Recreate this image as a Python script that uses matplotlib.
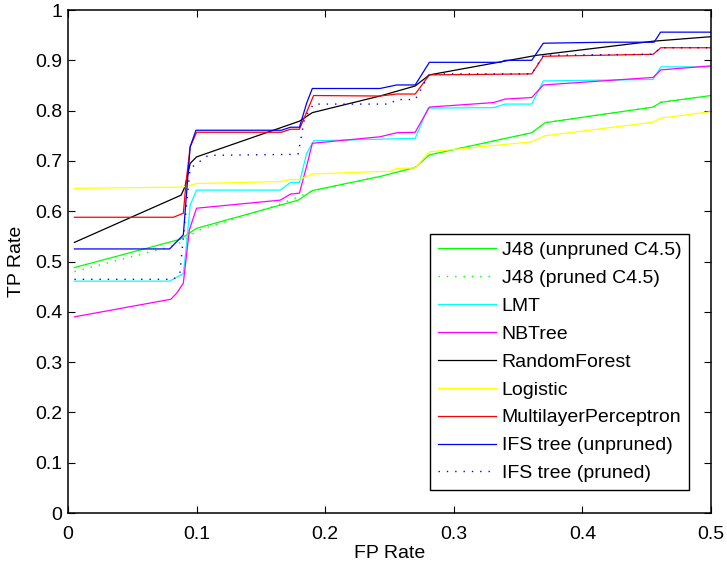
import matplotlib
matplotlib.use('Agg')
import matplotlib.pyplot as plt

plt.rcParams['font.family'] = ['Liberation Sans', 'DejaVu Sans']
plt.rcParams['font.size'] = 14

# ROC curves (FP rate, TP rate)
j48_unpruned_x = [0.005, 0.087, 0.100, 0.179, 0.190, 0.2426, 0.270, 0.281, 0.346, 0.3606, 0.371, 0.455, 0.461, 0.500]
j48_unpruned_y = [0.488, 0.544, 0.566, 0.622, 0.641, 0.669, 0.687, 0.712, 0.748, 0.756, 0.776, 0.807, 0.8165, 0.830]

j48_pruned_x = [0.005, 0.080, 0.090, 0.100, 0.165, 0.190, 0.2426, 0.270, 0.281, 0.346, 0.3606, 0.371, 0.455, 0.461, 0.500]
j48_pruned_y = [0.480, 0.530, 0.540, 0.561, 0.614, 0.640, 0.669, 0.687, 0.712, 0.748, 0.756, 0.776, 0.807, 0.8165, 0.830]

lmt_x = [0.005, 0.079, 0.0897, 0.092, 0.095, 0.100, 0.165, 0.173, 0.180, 0.1856, 0.191, 0.2556, 0.270, 0.280, 0.331, 0.340, 0.3606, 0.3696, 0.455, 0.461, 0.500]
lmt_y = [0.461, 0.461, 0.476, 0.529, 0.612, 0.642, 0.642, 0.657, 0.657, 0.715, 0.740, 0.744, 0.745, 0.805, 0.806, 0.813, 0.813, 0.859, 0.862, 0.887, 0.887]

nbtree_x = [0.005, 0.080, 0.0845, 0.0897, 0.0944, 0.100, 0.165, 0.173, 0.180, 0.1856, 0.190, 0.2426, 0.2556, 0.270, 0.281, 0.331, 0.340, 0.3606, 0.3696, 0.455, 0.461, 0.500]
nbtree_y = [0.390, 0.425, 0.437, 0.457, 0.563, 0.606, 0.622, 0.634, 0.636, 0.690, 0.735, 0.748, 0.756, 0.757, 0.807, 0.816, 0.823, 0.826, 0.851, 0.866, 0.881, 0.889]

rf_x = [0.005, 0.088, 0.091, 0.095, 0.100, 0.180, 0.190, 0.2426, 0.270, 0.281, 0.3645, 0.455, 0.500]
rf_y = [0.538, 0.632, 0.649, 0.695, 0.708, 0.779, 0.796, 0.829, 0.849, 0.871, 0.910, 0.938, 0.947]

logistic_x = [0.005, 0.0897, 0.100, 0.165, 0.173, 0.180, 0.190, 0.2426, 0.250, 0.2556, 0.270, 0.281, 0.3606, 0.371, 0.455, 0.461, 0.500]
logistic_y = [0.6455, 0.648, 0.655, 0.659, 0.663, 0.663, 0.674, 0.679, 0.679, 0.685, 0.686, 0.718, 0.738, 0.750, 0.777, 0.785, 0.798]

mlp_x = [0.005, 0.082, 0.0897, 0.092, 0.095, 0.100, 0.166, 0.173, 0.180, 0.191, 0.2426, 0.2556, 0.270, 0.281, 0.3606, 0.3696, 0.455, 0.461, 0.500]
mlp_y = [0.588, 0.588, 0.596, 0.662, 0.728, 0.757, 0.757, 0.763, 0.763, 0.830, 0.829, 0.833, 0.833, 0.871, 0.873, 0.908, 0.912, 0.925, 0.925]

ifs_unpruned_x = [0.005, 0.079, 0.0897, 0.095, 0.0995, 0.166, 0.173, 0.180, 0.1856, 0.190, 0.2426, 0.2556, 0.270, 0.281, 0.336, 0.340, 0.3606, 0.3696, 0.419, 0.4557, 0.4608, 0.500]
ifs_unpruned_y = [0.525, 0.525, 0.553, 0.728, 0.761, 0.761, 0.767, 0.767, 0.815, 0.844, 0.844, 0.851, 0.851, 0.896, 0.896, 0.900, 0.900, 0.934, 0.936, 0.936, 0.956, 0.956]

ifs_pruned_x = [0.005, 0.082, 0.087, 0.0909, 0.095, 0.109, 0.173, 0.179, 0.184, 0.191, 0.250, 0.2556, 0.270, 0.274, 0.281, 0.3606, 0.3696, 0.455, 0.461, 0.500]
ifs_pruned_y = [0.4646, 0.4646, 0.476, 0.580, 0.685, 0.711, 0.713, 0.714, 0.785, 0.813, 0.813, 0.822, 0.822, 0.840, 0.873, 0.873, 0.910, 0.912, 0.925, 0.925]

dots = (0, (1, 5))

fig = plt.figure(figsize=(7.27, 5.66), dpi=100)
ax = fig.add_axes([0.0935, 0.0936, 0.8845, 0.8887])

ax.plot(j48_unpruned_x, j48_unpruned_y, color='#00ff00', lw=0.9, label='J48 (unpruned C4.5)')
ax.plot(j48_pruned_x, j48_pruned_y, color='#00ff00', lw=1.0, ls=dots, label='J48 (pruned C4.5)')
ax.plot(lmt_x, lmt_y, color='#00ffff', lw=0.9, label='LMT')
ax.plot(nbtree_x, nbtree_y, color='#ff00ff', lw=0.9, label='NBTree')
ax.plot(rf_x, rf_y, color='black', lw=0.9, label='RandomForest')
ax.plot(logistic_x, logistic_y, color='#ffff00', lw=0.9, label='Logistic')
ax.plot(mlp_x, mlp_y, color='#ff0000', lw=0.9, label='MultilayerPerceptron')
ax.plot(ifs_unpruned_x, ifs_unpruned_y, color='#0000ff', lw=0.9, label='IFS tree (unpruned)')
ax.plot(ifs_pruned_x, ifs_pruned_y, color='#0000ff', lw=1.0, ls=dots, label='IFS tree (pruned)')

ax.set_xlim(0, 0.5)
ax.set_ylim(0, 1)
ax.set_xticks([0, 0.1, 0.2, 0.3, 0.4, 0.5])
ax.set_xticklabels(['0', '0.1', '0.2', '0.3', '0.4', '0.5'])
ax.set_yticks([i / 10 for i in range(11)])
ax.set_yticklabels(['0', '0.1', '0.2', '0.3', '0.4', '0.5', '0.6', '0.7', '0.8', '0.9', '1'])
ax.tick_params(direction='in', length=5, width=0.8, top=True, right=True, labelsize=14)
ax.tick_params(axis='x', pad=9.5)
ax.tick_params(axis='y', pad=4)
for s in ax.spines.values():
    s.set_linewidth(1.1)

ax.set_xlabel('FP Rate', fontsize=14, labelpad=1)
ax.set_ylabel('TP Rate', fontsize=14, labelpad=7)

leg = ax.legend(loc='lower right', bbox_to_anchor=(0.966, 0.0457), borderaxespad=0,
                fancybox=False, edgecolor='black', framealpha=1, fontsize=14,
                handlelength=3.0, labelspacing=0.53, handletextpad=0.3, borderpad=0.4)
leg.get_frame().set_linewidth(1.0)

fig.savefig('out.png', dpi=100)
